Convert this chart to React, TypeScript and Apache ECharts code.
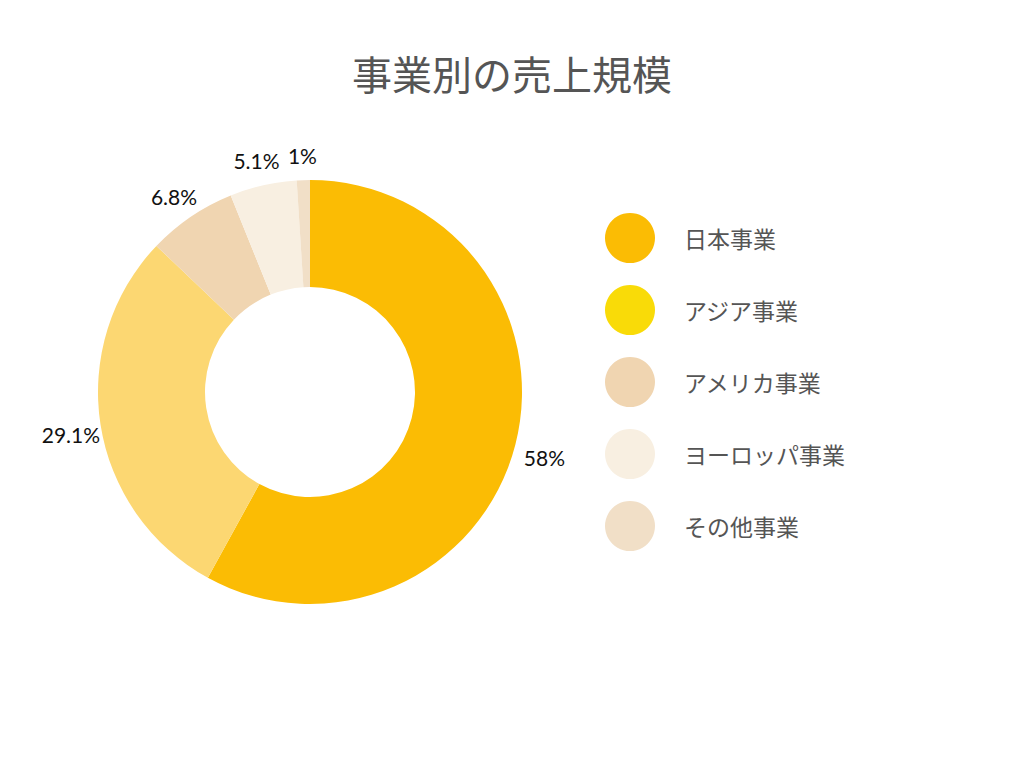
import React, { useEffect, useRef } from "react";
import * as echarts from "echarts";

const categories = ["日本事業", "アジア事業", "アメリカ事業", "ヨーロッパ事業", "その他事業"];
const values = [58, 29.1, 6.8, 5.1, 1];
const labels = ["58%", "29.1%", "6.8%", "5.1%", "1%"];
const sliceColors = ["#FBBC04", "#FCD772", "#F0D5B1", "#F8EFE1", "#F1DFC7"];
const legendColors = ["#FBBC04", "#F9DB08", "#F0D5B1", "#F8EFE1", "#F1DFC7"];
const titleText = "事業別の売上規模";

const JP = '"Noto Sans CJK JP", "Noto Sans", sans-serif';

export default function App() {
  const ref = useRef<HTMLDivElement>(null);
  useEffect(() => {
    if (!ref.current) return;
    const chart = echarts.init(ref.current, null, { renderer: "svg" });
    chart.setOption({
      animation: false,
      backgroundColor: "#ffffff",
      title: {
        text: titleText,
        left: "center",
        top: 40,
        textStyle: { fontFamily: JP, fontSize: 40, fontWeight: "normal", color: "#555555" },
      },
      legend: {
        orient: "vertical",
        left: 592,
        top: 200,
        itemWidth: 50,
        itemHeight: 50,
        itemGap: 22,
        icon: "circle",
        selectedMode: false,
        textStyle: { fontFamily: JP, fontSize: 23, color: "#555555", padding: [0, 0, 0, 24] },
        data: categories.map((c, i) => ({
          name: c,
          itemStyle: { color: legendColors[i], opacity: 1 },
        })),
      },
      series: [
        {
          type: "pie",
          center: [302, 384],
          radius: [105, 212],
          startAngle: 90,
          clockwise: true,
          silent: true,
          label: { show: false },
          labelLine: { show: false },
          data: categories.map((c, i) => ({
            name: c,
            value: values[i],
            itemStyle: { color: sliceColors[i] },
          })),
        },
        {
          type: "pie",
          center: [302, 384],
          radius: [226, 252],
          startAngle: 90,
          clockwise: true,
          silent: true,
          itemStyle: { color: "rgba(0,0,0,0)" },
          label: {
            show: true,
            position: "inside",
            offset: [0, 5],
            fontFamily: "Lato, sans-serif",
            fontSize: 21,
            color: "#111111",
            formatter: (p: any) => labels[p.dataIndex],
          },
          labelLine: { show: false },
          data: categories.map((c, i) => ({ name: c, value: values[i] })),
        },
      ],
    });
    return () => chart.dispose();
  }, []);
  return <div ref={ref} style={{ width: 1008, height: 752 }} />;
}
